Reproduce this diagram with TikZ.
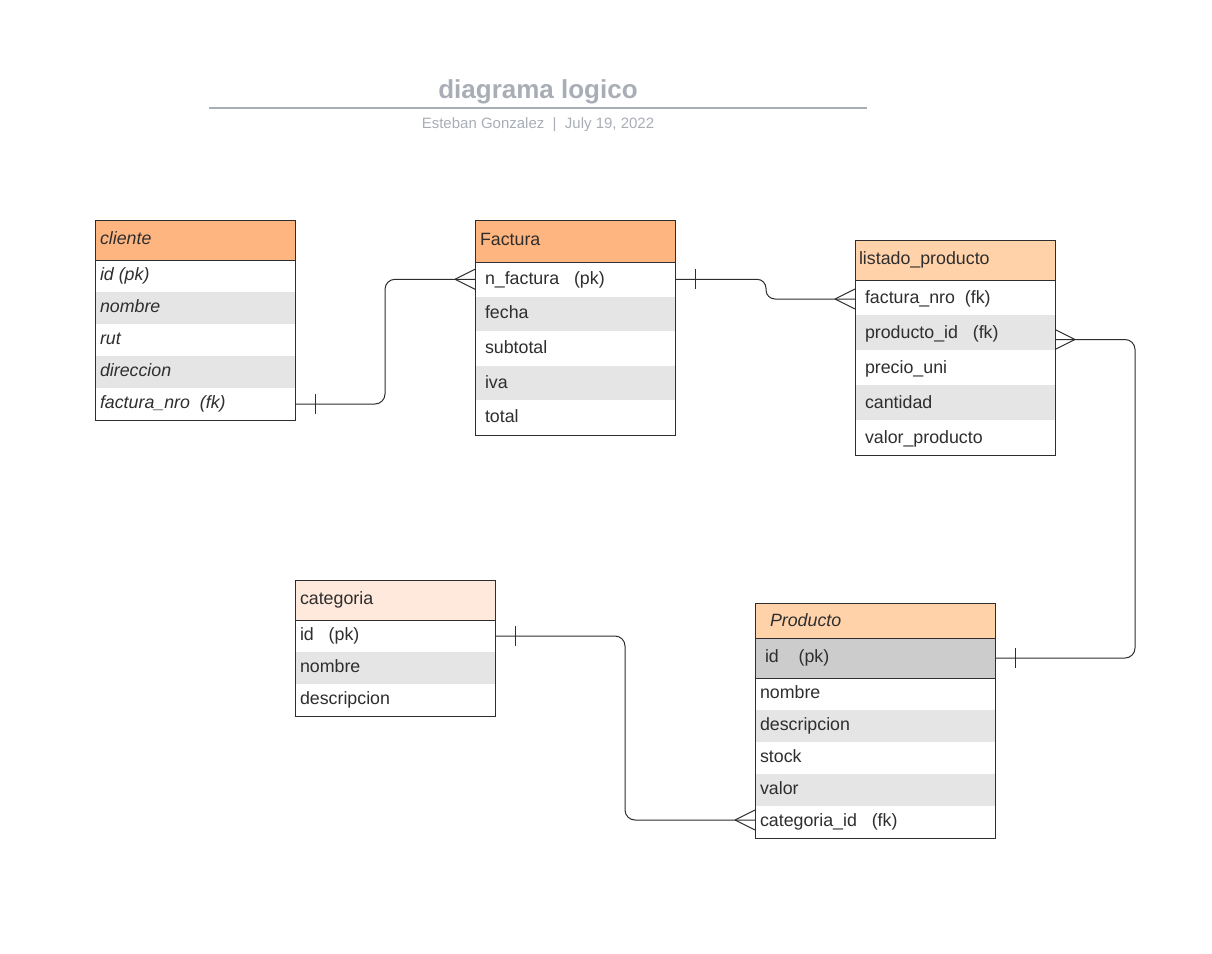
\documentclass[tikz,border=0pt]{standalone}
\usepackage{fontspec}
\setmainfont{Liberation Sans}
\usetikzlibrary{calc}
\definecolor{hdrA}{HTML}{FFB580}
\definecolor{hdrB}{HTML}{FFD2AA}
\definecolor{hdrC}{HTML}{FFE9DC}
\definecolor{rowgray}{HTML}{E5E5E5}
\definecolor{rowdark}{HTML}{CCCCCC}
\definecolor{ink}{HTML}{2E2E2E}
\definecolor{titlegray}{HTML}{A9AEB6}
\def\rowdrop{4}
% name, x, ytop, width, height, fill, text inset, text
\newcommand\tabrow[8]{%
  \node[rowbox, fill=#6, minimum width=#4pt, minimum height=#5pt, anchor=north west] (#1) at (#2,#3) {};
  \node[rowtext, anchor=base west] (#1-t) at ([xshift=#7pt, yshift=-\rowdrop pt]#1.west) {#8};
}
\newcommand\crowL[1]{%
  \draw[conn] ([xshift=-20pt]#1) -- ([yshift=10pt]#1);
  \draw[conn] ([xshift=-20pt]#1) -- ([yshift=-10pt]#1);
}
\newcommand\crowR[1]{%
  \draw[conn] ([xshift=20pt]#1) -- ([yshift=10pt]#1);
  \draw[conn] ([xshift=20pt]#1) -- ([yshift=-10pt]#1);
}
\newcommand\barR[1]{%
  \draw[conn] ([xshift=20pt, yshift=10pt]#1) -- ([xshift=20pt, yshift=-10pt]#1);
}
\begin{document}
\begin{tikzpicture}[x=1pt, y=-1pt,
  rowbox/.style={draw=none, inner sep=0pt, outer sep=0pt},
  rowtext/.style={inner sep=0pt, outer sep=0pt, text=ink, font=\fontsize{17.8}{21}\selectfont},
  tabline/.style={draw=ink, line width=1pt},
  conn/.style={draw=ink, line width=1pt}]
\useasboundingbox (0,0) rectangle (1212,953);
\fill[white] (0,0) rectangle (1212,953);

% title
\node[font=\bfseries\fontsize{26}{30}\selectfont, text=titlegray, anchor=base, inner sep=0pt] (title) at (538,98) {diagrama logico};
\draw[titlegray, line width=2pt] (209,107.5) -- (867,107.5);
\node[font=\fontsize{15}{18}\selectfont, text=titlegray, anchor=base, inner sep=0pt] (sub) at (538,128.5) {Esteban Gonzalez\ \ |\ \ July 19, 2022};

% cliente
\tabrow{cl-h}{95}{220}{200}{40}{hdrA}{5}{\itshape cliente}
\tabrow{cl-1}{95}{260}{200}{32}{white}{5}{\itshape id (pk)}
\tabrow{cl-2}{95}{292}{200}{32}{rowgray}{5}{\itshape nombre}
\tabrow{cl-3}{95}{324}{200}{32}{white}{5}{\itshape rut}
\tabrow{cl-4}{95}{356}{200}{32}{rowgray}{5}{\itshape direccion}
\tabrow{cl-5}{95}{388}{200}{32}{white}{5}{\itshape factura\_nro\ \ (fk)}
\draw[tabline] (cl-h.north west) rectangle (cl-5.south east);
\draw[tabline] (cl-h.south west) -- (cl-h.south east);

% Factura
\tabrow{fa-h}{475}{220}{200}{42}{hdrA}{5}{Factura}
\def\rowdrop{5}
\tabrow{fa-1}{475}{262}{200}{34.6}{white}{10}{n\_factura\ \ \ (pk)}
\tabrow{fa-2}{475}{296.6}{200}{34.6}{rowgray}{10}{fecha}
\tabrow{fa-3}{475}{331.2}{200}{34.6}{white}{10}{subtotal}
\tabrow{fa-4}{475}{365.8}{200}{34.6}{rowgray}{10}{iva}
\tabrow{fa-5}{475}{400.4}{200}{34.6}{white}{10}{total}
\draw[tabline] (fa-h.north west) rectangle (fa-5.south east);
\draw[tabline] (fa-h.south west) -- (fa-h.south east);

% listado_producto
\def\rowdrop{4}
\tabrow{li-h}{855}{240}{200}{40}{hdrB}{4}{listado\_producto}
\def\rowdrop{6}
\tabrow{li-1}{855}{280}{200}{35}{white}{10}{factura\_nro\ \ (fk)}
\tabrow{li-2}{855}{315}{200}{35}{rowgray}{10}{producto\_id\ \ \ (fk)}
\tabrow{li-3}{855}{350}{200}{35}{white}{10}{precio\_uni}
\tabrow{li-4}{855}{385}{200}{35}{rowgray}{10}{cantidad}
\tabrow{li-5}{855}{420}{200}{35}{white}{10}{valor\_producto}
\draw[tabline] (li-h.north west) rectangle (li-5.south east);
\draw[tabline] (li-h.south west) -- (li-h.south east);
\def\rowdrop{4}

% categoria
\tabrow{ca-h}{295}{580}{200}{40}{hdrC}{5}{categoria}
\tabrow{ca-1}{295}{620}{200}{32}{white}{5}{id\ \ \ (pk)}
\tabrow{ca-2}{295}{652}{200}{32}{rowgray}{5}{nombre}
\tabrow{ca-3}{295}{684}{200}{32}{white}{5}{descripcion}
\draw[tabline] (ca-h.north west) rectangle (ca-3.south east);
\draw[tabline] (ca-h.south west) -- (ca-h.south east);

% Producto
\tabrow{pr-h}{755}{603}{240}{35}{hdrB}{15}{\raisebox{-2pt}{\itshape Producto}}
\tabrow{pr-1}{755}{638}{240}{40}{rowdark}{10}{id\ \ \ \ (pk)}
\tabrow{pr-2}{755}{678}{240}{32}{white}{5}{nombre}
\tabrow{pr-3}{755}{710}{240}{32}{rowgray}{5}{descripcion}
\tabrow{pr-4}{755}{742}{240}{32}{white}{5}{stock}
\tabrow{pr-5}{755}{774}{240}{32}{rowgray}{5}{valor}
\tabrow{pr-6}{755}{806}{240}{32}{white}{5}{categoria\_id\ \ \ (fk)}
\draw[tabline] (pr-h.north west) rectangle (pr-6.south east);
\draw[tabline] (pr-h.south west) -- (pr-h.south east);
\draw[tabline] (pr-1.south west) -- (pr-1.south east);

% connector end points
\coordinate (li2p) at ([yshift=-7pt]li-2.east);
\coordinate (pr6p) at ([yshift=2pt]pr-6.west);
\coordinate (li1p) at ([yshift=-1.5pt]li-1.west);

% connectors
\draw[conn, rounded corners=10pt] (cl-5.east) -- ++(90,0) |- (fa-1.west);
\barR{cl-5.east}
\crowL{fa-1.west}

\draw[conn, rounded corners=9pt] (fa-1.east) -- ++(91,0) |- (li1p);
\barR{fa-1.east}
\crowL{li1p}

\draw[conn, rounded corners=10pt] (li2p) -- ++(80,0) |- (pr-1.east);
\crowR{li2p}
\barR{pr-1.east}

\draw[conn, rounded corners=10pt] (ca-1.east) -- ++(130,0) |- (pr6p);
\barR{ca-1.east}
\crowL{pr6p}
\end{tikzpicture}
\end{document}
